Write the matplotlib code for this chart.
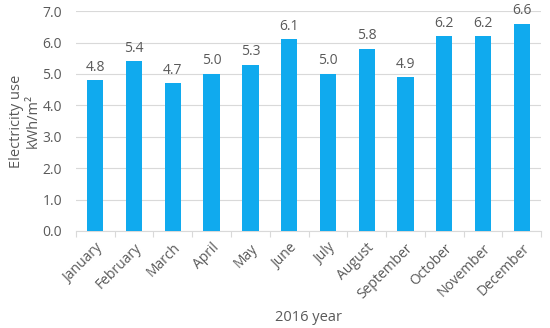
import numpy as np
import matplotlib.pyplot as plt

plt.rcParams['font.family'] = ['Open Sans', 'DejaVu Sans']

months = ["January", "February", "March", "April", "May", "June",
          "July", "August", "September", "October", "November", "December"]
usage = [4.8, 5.4, 4.7, 5.0, 5.3, 6.1, 5.0, 5.8, 4.9, 6.2, 6.2, 6.6]

text_col = "#595959"
grid_col = "#d9d9d9"

fig = plt.figure(figsize=(5.5, 3.28), dpi=100)
ax = fig.add_axes([0.138, 0.296, 0.846, 0.670])

x = np.arange(len(months))
bars = ax.bar(x, usage, width=0.42, color="#10aaee", zorder=3)

# value labels above bars
for xi, v in zip(x, usage):
    ax.annotate(f"{v:.1f}", (xi, v), xytext=(0, 4), textcoords="offset points",
                ha="center", va="bottom", fontsize=10, color=text_col)

ax.set_xlim(-0.5, len(months) - 0.5)
ax.set_ylim(0, 7.0)
ax.set_yticks(np.arange(0, 7.5, 1.0))
ax.set_yticklabels([f"{t:.1f}" for t in np.arange(0, 7.5, 1.0)], fontsize=10, color=text_col)
ax.yaxis.grid(True, color=grid_col, linewidth=0.8, zorder=0)
ax.tick_params(axis="y", length=0, pad=10)

# month labels centered, ticks between categories
ax.set_xticks(x)
ax.set_xticklabels(months, rotation=45, ha="right", rotation_mode="anchor",
                   fontsize=10, color=text_col)
ax.tick_params(axis="x", length=0, pad=7)
ax.set_xticks(np.arange(-0.5, len(months) + 0.5, 1.0), minor=True)
ax.tick_params(axis="x", which="minor", length=4, color=grid_col, width=0.8)

for s in ["top", "right", "left"]:
    ax.spines[s].set_visible(False)
ax.spines["bottom"].set_color(grid_col)
ax.spines["bottom"].set_linewidth(0.8)

ax.set_ylabel("Electricity use\nkWh/m²", fontsize=10.5, color=text_col, labelpad=1)
ax.set_xlabel("2016 year", fontsize=10.5, color=text_col, labelpad=6)

fig.savefig("out.png", dpi=100)
